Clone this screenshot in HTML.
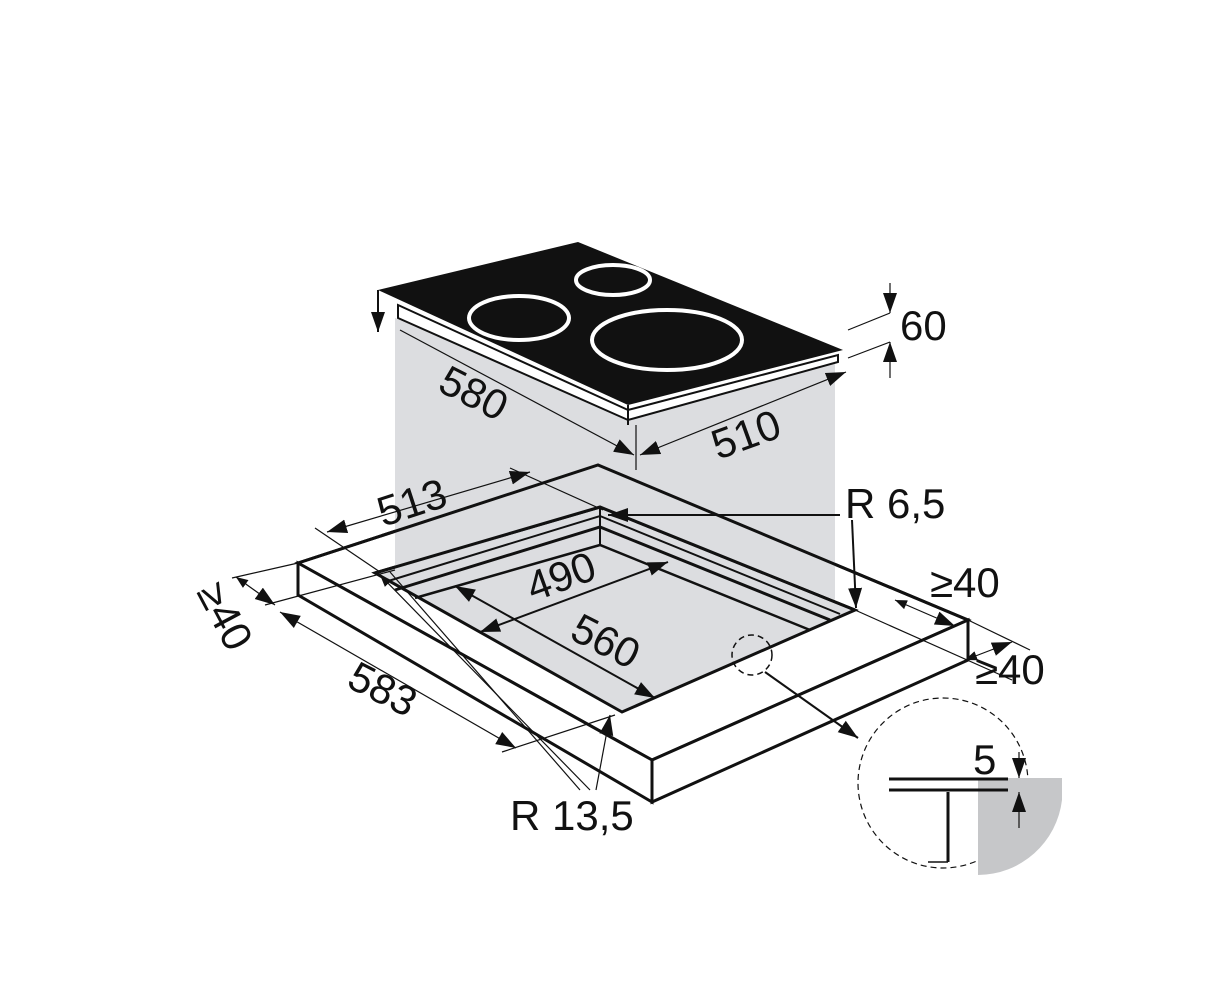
<!DOCTYPE html>
<html><head><meta charset="utf-8"><style>html,body{margin:0;background:#fff}svg{display:block}text{font-family:"Liberation Sans",sans-serif;fill:#111}</style></head><body>
<svg width="1223" height="1000" viewBox="0 0 1223 1000" xmlns="http://www.w3.org/2000/svg">
<defs><marker id="a" viewBox="0 0 10 10" refX="10" refY="5" markerWidth="12" markerHeight="12" markerUnits="userSpaceOnUse" orient="auto-start-reverse"><path d="M0,1 L10,5 L0,9z" fill="#111"/></marker>
<marker id="b" viewBox="0 0 10 10" refX="10" refY="5" markerWidth="20" markerHeight="20" markerUnits="userSpaceOnUse" orient="auto-start-reverse"><path d="M0,1.5 L10,5 L0,8.5z" fill="#111"/></marker></defs>
<polygon points="395,318 628,418 835,362 835,600 760,630 395,590" fill="#dcdde0"/>
<polygon points="298,563 598,465 968,620 652,760" fill="#fff" stroke="#111" stroke-width="3"/>
<polygon points="298,563 652,760 652,802 298,595" fill="#fff" stroke="#111" stroke-width="3"/>
<polygon points="652,760 968,620 968,660 652,802" fill="#fff" stroke="#111" stroke-width="3"/>
<polygon points="375,573 600,507 855,610 622,712" fill="#dcdde0" stroke="#111" stroke-width="3"/>
<polygon points="395,318 628,418 835,362 835,600 600,507 395,570" fill="#dcdde0"/>
<polyline points="298,563 598,465 968,620" fill="none" stroke="#111" stroke-width="3"/>
<polyline points="375,573 600,507 855,610" fill="none" stroke="#111" stroke-width="3"/>
<polyline points="385,582 600,516 840,614" fill="none" stroke="#111" stroke-width="2"/>
<polyline points="395,590 600,527 830,620" fill="none" stroke="#111" stroke-width="3"/>
<polyline points="415,598 600,545 810,630" fill="none" stroke="#111" stroke-width="2.5"/>
<line x1="600" y1="507" x2="600" y2="545" stroke="#111" stroke-width="2"/>
<polygon points="398,305 628,410 838,355 838,362 628,420 398,318" fill="#fff" stroke="#111" stroke-width="2"/>
<polygon points="378,290 578,242 843,350 628,405" fill="#111"/>
<line x1="378" y1="290" x2="378" y2="332" stroke="#111" stroke-width="2" marker-end="url(#b)"/>
<line x1="628" y1="405" x2="628" y2="425" stroke="#111" stroke-width="2"/>
<ellipse cx="519" cy="318" rx="50" ry="22" fill="none" stroke="#fff" stroke-width="4"/>
<ellipse cx="613" cy="280" rx="37" ry="15" fill="none" stroke="#fff" stroke-width="4"/>
<ellipse cx="667" cy="340" rx="75" ry="30" fill="none" stroke="#fff" stroke-width="4"/>
<g stroke="#111" stroke-width="1.2" fill="none">
<line x1="400" y1="330" x2="634" y2="455" marker-end="url(#b)"/>
<line x1="640" y1="455" x2="846" y2="372" marker-start="url(#b)" marker-end="url(#b)"/>
<line x1="848" y1="330" x2="890" y2="313"/><line x1="848" y1="358" x2="890" y2="342"/>
<line x1="890" y1="283" x2="890" y2="313" marker-end="url(#b)"/>
<line x1="890" y1="378" x2="890" y2="342" marker-end="url(#b)"/>
<line x1="636" y1="425" x2="636" y2="470"/>
<line x1="510" y1="468" x2="603" y2="510"/>
<line x1="327" y1="532" x2="530" y2="472" marker-start="url(#b)" marker-end="url(#b)"/>
<line x1="315" y1="528" x2="380" y2="572"/>
<line x1="480" y1="632" x2="668" y2="562" stroke-width="2" marker-start="url(#b)" marker-end="url(#b)"/>
<line x1="455" y1="586" x2="655" y2="698" stroke-width="2" marker-start="url(#b)" marker-end="url(#b)"/>
<line x1="232" y1="578" x2="298" y2="563"/>
<line x1="265" y1="605" x2="395" y2="570"/>
<line x1="236" y1="577" x2="275" y2="605" marker-start="url(#a)" marker-end="url(#b)"/>
<line x1="280" y1="612" x2="516" y2="748" marker-start="url(#b)" marker-end="url(#b)"/>
<line x1="502" y1="752" x2="615" y2="715"/>
<line x1="380" y1="575" x2="590" y2="790" marker-start="url(#a)"/>
<line x1="390" y1="572" x2="580" y2="790"/>
<line x1="610" y1="715" x2="596" y2="790" marker-start="url(#b)"/>
<line x1="840" y1="515" x2="608" y2="515" stroke-width="2" marker-end="url(#b)"/>
<line x1="852" y1="520" x2="856" y2="608" stroke-width="2" marker-end="url(#b)"/>
<line x1="855" y1="610" x2="1012" y2="680"/>
<line x1="895" y1="600" x2="955" y2="626" marker-start="url(#a)" marker-end="url(#b)"/>
<line x1="968" y1="620" x2="1030" y2="650"/>
<line x1="965" y1="660" x2="1012" y2="642" marker-start="url(#a)" marker-end="url(#b)"/>
<circle cx="752" cy="655" r="20" stroke-dasharray="6,4" stroke-width="1.5"/>
<line x1="765" y1="672" x2="858" y2="738" stroke-width="2" marker-end="url(#b)"/>
<circle cx="943" cy="783" r="85" stroke-dasharray="6,4"/>
</g>
<path d="M978,778 L1062,778 L1062,800 A85,85 0 0 1 978,875 Z" fill="#c6c7c9"/>
<g stroke="#111" fill="none">
<line x1="889" y1="779" x2="1008" y2="779" stroke-width="3"/>
<line x1="889" y1="790" x2="1008" y2="790" stroke-width="3"/>
<line x1="948" y1="792" x2="948" y2="862" stroke-width="3"/>
<line x1="928" y1="862" x2="948" y2="862" stroke-width="1.5"/>
<line x1="1019" y1="752" x2="1019" y2="778" stroke-width="1.2" marker-end="url(#b)"/>
<line x1="1019" y1="828" x2="1019" y2="792" stroke-width="1.2" marker-end="url(#b)"/>
</g>
<g font-size="42">
<text x="900" y="340">60</text>
<text transform="translate(436,390) rotate(27)">580</text>
<text transform="translate(718,460) rotate(-20)">510</text>
<text transform="translate(383,527) rotate(-18)">513</text>
<text x="845" y="518">R 6,5</text>
<text transform="translate(533,602) rotate(-20)">490</text>
<text transform="translate(568,638) rotate(27)">560</text>
<text transform="translate(345,686) rotate(27)">583</text>
<text transform="translate(196,592) rotate(62)">≥40</text>
<text x="930" y="597">≥40</text>
<text x="975" y="684">≥40</text>
<text x="510" y="830">R 13,5</text>
<text x="973" y="774">5</text>
</g>
</svg>
</body></html>
